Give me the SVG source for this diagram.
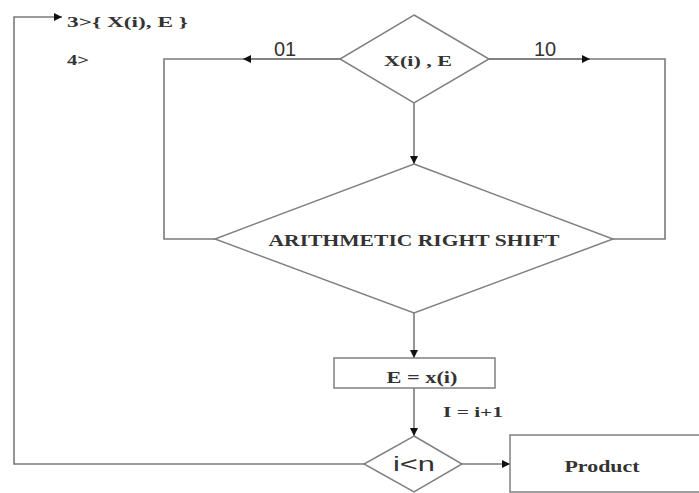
<svg xmlns="http://www.w3.org/2000/svg" width="699" height="493" viewBox="0 0 699 493">
<style>
.shape{fill:#fff;stroke:#808080;stroke-width:1.5}
.line{fill:none;stroke:#7a7a7a;stroke-width:1.6}
.serif{font-family:"Liberation Serif","Times New Roman",serif;font-weight:bold;fill:#333}
.sans{font-family:"Liberation Sans",Arial,sans-serif;fill:#333}
</style>
<defs>
<marker id="ah" viewBox="0 0 10 10" refX="10" refY="5" markerWidth="8" markerHeight="8" markerUnits="userSpaceOnUse" orient="auto">
<path d="M0,0 L10,5 L0,10 z" fill="#111"/>
</marker>
</defs>
<rect width="699" height="493" fill="#fff"/>
<g id="connectors">
<path class="line" d="M340,59 H164 V239 H215"/>
<path class="line" d="M340,59 H243" marker-end="url(#ah)"/>
<path class="line" d="M489,59 H665 V239 H613"/>
<path class="line" d="M489,59 H590" marker-end="url(#ah)"/>
<path class="line" d="M414,103 V164" marker-end="url(#ah)"/>
<path class="line" d="M414,313 V358" marker-end="url(#ah)"/>
<path class="line" d="M414,388 V436" marker-end="url(#ah)"/>
<path class="line" d="M462,464 H510" marker-end="url(#ah)"/>
<path class="line" d="M364,464 H14 V17 H62" stroke-width="2" marker-end="url(#ah)"/>
<text class="sans" x="285" y="56" font-size="20" text-anchor="middle">01</text>
<text class="sans" x="545" y="56" font-size="20" text-anchor="middle">10</text>
<text class="serif" x="443" y="417" font-size="15" textLength="60" lengthAdjust="spacingAndGlyphs">I = i+1</text>
</g>
<g id="label-3">
<text class="serif" x="67" y="27" font-size="15" textLength="121" lengthAdjust="spacingAndGlyphs">3&gt;{ X(i), E }</text>
</g>
<g id="label-4">
<text class="serif" x="67" y="65" font-size="15" textLength="22" lengthAdjust="spacingAndGlyphs">4&gt;</text>
</g>
<g id="decision-xe">
<polygon class="shape" points="414,15 489,59 414,103 340,59"/>
<text class="serif" x="418" y="66" font-size="14" text-anchor="middle" textLength="68" lengthAdjust="spacingAndGlyphs">X(i) , E</text>
</g>
<g id="shift">
<polygon class="shape" points="414,164 613,239 414,313 215,239"/>
<text class="serif" x="414" y="246" font-size="16" text-anchor="middle" textLength="291" lengthAdjust="spacingAndGlyphs">ARITHMETIC RIGHT SHIFT</text>
</g>
<g id="assign">
<rect class="shape" x="334" y="358" width="161" height="30"/>
<text class="serif" x="422" y="383" font-size="17" text-anchor="middle" textLength="71" lengthAdjust="spacingAndGlyphs">E = x(i)</text>
</g>
<g id="decision-in">
<polygon class="shape" points="414,436 462,464 414,492 364,464"/>
<text class="sans" x="414" y="471" font-size="20" text-anchor="middle" textLength="42" lengthAdjust="spacingAndGlyphs">i&lt;n</text>
</g>
<g id="product">
<rect class="shape" x="510" y="435" width="200" height="57"/>
<text class="serif" x="602" y="472" font-size="16" text-anchor="middle" textLength="75" lengthAdjust="spacingAndGlyphs">Product</text>
</g>
</svg>
